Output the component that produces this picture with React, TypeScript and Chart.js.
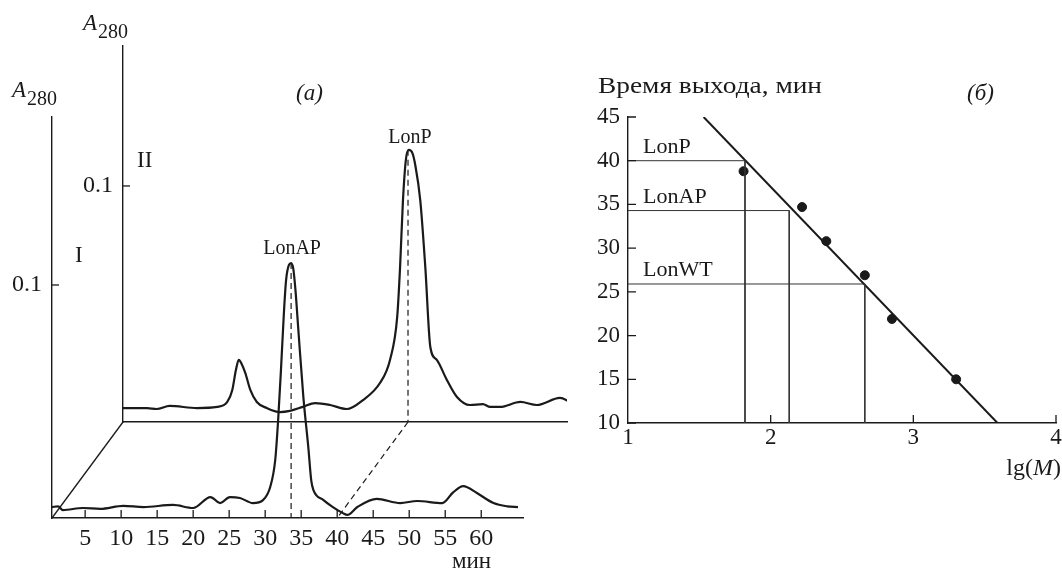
import React, { useEffect, useRef } from 'react';
import { Chart, registerables } from 'chart.js';

Chart.register(...registerables);

const FONT = '"Liberation Serif", "Times New Roman", serif';
const INK = '#1a1a1a';

// ---------- Panel (a): chromatograms ----------
// Trace I (front plane): time, min
const frontTime = [0.4, 1.25, 1.9, 4.7, 7.1, 10.3, 13.1, 17.2, 20, 22.4, 23.75, 25.1, 26.5, 28.3, 29.7, 30.7, 31.4, 31.8, 32.2, 32.6, 32.9, 33.3, 33.6, 33.9, 34.2, 34.6, 35.3, 36.0, 36.4, 36.7, 38.1, 39.4, 40.8, 41.4, 42.8, 45.5, 48.75, 51.1, 54.6, 56.1, 57.5, 59.4, 61.7, 63.6, 65.1];
// Trace I absorbance A280
const frontA = [0.0047, 0.005, 0.0034, 0.0043, 0.0039, 0.0052, 0.0047, 0.0056, 0.0043, 0.009, 0.0064, 0.009, 0.0086, 0.0064, 0.0077, 0.0133, 0.025, 0.042, 0.064, 0.088, 0.102, 0.1086, 0.1094, 0.107, 0.098, 0.081, 0.052, 0.03, 0.016, 0.012, 0.0077, 0.0047, 0.0021, 0.0013, 0.0047, 0.0082, 0.0064, 0.0073, 0.0064, 0.011, 0.0137, 0.0107, 0.0064, 0.005, 0.0047];
// Trace II (back plane): time, min
const backTime = [0.4, 3.75, 5.1, 6.9, 10.7, 13.5, 14.9, 15.6, 16.1, 16.5, 16.9, 17.4, 18.1, 19.0, 20.4, 22.2, 23.6, 25.4, 27.1, 29.2, 31.5, 33.75, 36.1, 37.5, 38.5, 38.9, 39.3, 39.7, 40.1, 40.6, 41.0, 41.7, 42.4, 43.1, 44.0, 45.4, 46.8, 48.6, 50.4, 51.4, 52.8, 55.6, 57.9, 61.1, 62.5];
// Trace II absorbance A280
const backA = [0.0059, 0.0059, 0.0055, 0.0068, 0.0059, 0.0064, 0.0085, 0.0136, 0.022, 0.0263, 0.0246, 0.0208, 0.0136, 0.0085, 0.0059, 0.0042, 0.0047, 0.0064, 0.008, 0.0072, 0.0055, 0.0093, 0.0165, 0.0263, 0.0445, 0.0657, 0.094, 0.111, 0.1153, 0.114, 0.109, 0.094, 0.0657, 0.0318, 0.0263, 0.0178, 0.0106, 0.0072, 0.0076, 0.0064, 0.0064, 0.0085, 0.0072, 0.0102, 0.0085];

const timeTicksA = [5, 10, 15, 20, 25, 30, 35, 40, 45, 50, 55, 60];
const absTicksA = [0.1];
const lonAPTime = 33.6;
const lonAPPeak = 0.1094;
const lonPTime = 40.0;
const lonPPeak = 0.1153;

// ---------- Panel (б): calibration ----------
const lgM = [1.81, 2.22, 2.39, 2.66, 2.85, 3.3];
const elution = [38.8, 34.7, 30.8, 26.9, 21.9, 15.0];
const fitLg = [1.53, 3.59];
const fitTime = [45, 10];
const markerNames = ['LonP', 'LonAP', 'LonWT'];
const markerTime = [40, 34.3, 25.9];
const markerLg = [1.82, 2.13, 2.66];
const lgTicks = [1, 2, 3, 4];
const timeTicksB = [10, 15, 20, 25, 30, 35, 40, 45];

const W = 1062;
const H = 572;

const fixY = (w: number) => (s: any) => {
  s.width = w;
  s.paddingTop = 0; s.paddingBottom = 0; s.paddingLeft = 0; s.paddingRight = 0;
};
const fixX = (h: number) => (s: any) => {
  s.height = h;
  s.paddingTop = 0; s.paddingBottom = 0; s.paddingLeft = 0; s.paddingRight = 0;
};
const setTicks = (vals: number[]) => (s: any) => {
  s.ticks = vals.map((v) => ({ value: v }));
};

function drawInTicks(chart: any, id: string, vals: number[], len: number) {
  const s = chart.scales[id];
  const a = chart.chartArea;
  const ctx = chart.ctx;
  ctx.save();
  ctx.strokeStyle = INK;
  ctx.lineWidth = 1.3;
  ctx.beginPath();
  vals.forEach((v) => {
    const p = s.getPixelForValue(v);
    if (s.isHorizontal()) {
      ctx.moveTo(p, a.bottom);
      ctx.lineTo(p, a.bottom - len);
    } else {
      ctx.moveTo(a.left, p);
      ctx.lineTo(a.left + len, p);
    }
  });
  ctx.stroke();
  ctx.restore();
}

function stretchText(ctx: CanvasRenderingContext2D, text: string, x: number, y: number, sx: number) {
  ctx.save();
  ctx.translate(x, y);
  ctx.scale(sx, 1);
  ctx.fillText(text, 0, 0);
  ctx.restore();
}

function drawA280(ctx: CanvasRenderingContext2D, x: number, y: number) {
  ctx.font = `italic 23px ${FONT}`;
  ctx.textAlign = 'left';
  ctx.textBaseline = 'alphabetic';
  ctx.fillText('A', x, y);
  const w = ctx.measureText('A').width;
  ctx.font = `20px ${FONT}`;
  ctx.fillText('280', x + w + 1, y + 8);
}

const baseOpts = () => ({
  responsive: false,
  animation: false as const,
  events: [] as any[],
  plugins: { legend: { display: false }, tooltip: { enabled: false } },
});

const axisBorder = { display: true, color: INK, width: 1.4 };
const tickFontA = { family: FONT, size: 24 };
const tickFontB = { family: FONT, size: 23 };

export default function App() {
  const backRef = useRef<HTMLCanvasElement>(null);
  const frontRef = useRef<HTMLCanvasElement>(null);
  const bRef = useRef<HTMLCanvasElement>(null);

  useEffect(() => {
    // ---- back plane (trace II) ----
    const back = new Chart(backRef.current!, {
      type: 'scatter',
      data: {
        datasets: [
          {
            data: backTime.map((t, i) => ({ x: t, y: backA[i] })),
            showLine: true,
            borderColor: INK,
            borderWidth: 2.2,
            pointRadius: 0,
            cubicInterpolationMode: 'monotone',
          },
          {
            data: [{ x: lonPTime, y: lonPPeak }, { x: lonPTime, y: 0 }],
            showLine: true,
            borderColor: INK,
            borderWidth: 1.2,
            borderDash: [6, 4],
            pointRadius: 0,
          },
        ],
      },
      options: {
        ...baseOpts(),
        layout: { padding: { left: 73, top: 46, right: W - 567, bottom: H - 422 - 10 } },
        scales: {
          x: {
            type: 'linear', min: 0.42, max: 62.08,
            afterFit: fixX(10),
            grid: { display: false, drawTicks: false },
            border: axisBorder,
            ticks: { display: false },
          },
          y: {
            type: 'linear', min: 0, max: 0.1593,
            afterFit: fixY(50),
            afterBuildTicks: setTicks(absTicksA),
            grid: { display: false, drawTicks: false },
            border: axisBorder,
            ticks: { font: tickFontA, color: INK, padding: 10, callback: (v: any) => String(v) },
          },
        },
      },
      plugins: [
        {
          id: 'backDeco',
          afterDraw(chart: any) {
            drawInTicks(chart, 'y', absTicksA, 7);
            const ctx = chart.ctx;
            ctx.save();
            ctx.fillStyle = INK;
            drawA280(ctx, 83, 30);
            ctx.font = `23px ${FONT}`;
            ctx.textAlign = 'left';
            ctx.fillText('II', 137, 167);
            ctx.font = `20px ${FONT}`;
            ctx.textAlign = 'center';
            const px = chart.scales.x.getPixelForValue(lonPTime);
            const py = chart.scales.y.getPixelForValue(lonPPeak);
            ctx.fillText('LonP', px + 2, py - 7);
            ctx.restore();
          },
        },
      ],
    } as any);

    // ---- front plane (trace I) ----
    const front = new Chart(frontRef.current!, {
      type: 'scatter',
      data: {
        datasets: [
          {
            data: frontTime.map((t, i) => ({ x: t, y: frontA[i] })),
            showLine: true,
            borderColor: INK,
            borderWidth: 2.2,
            pointRadius: 0,
            cubicInterpolationMode: 'monotone',
          },
          {
            data: [{ x: lonAPTime, y: lonAPPeak }, { x: lonAPTime, y: 0 }],
            showLine: true,
            borderColor: INK,
            borderWidth: 1.2,
            borderDash: [6, 4],
            pointRadius: 0,
          },
        ],
      },
      options: {
        ...baseOpts(),
        layout: { padding: { left: 2, top: 117, right: W - 523, bottom: H - 518 - 50 } },
        scales: {
          x: {
            type: 'linear', min: 0.4, max: 65.8,
            afterFit: fixX(50),
            afterBuildTicks: setTicks(timeTicksA),
            grid: { display: false, drawTicks: false },
            border: axisBorder,
            ticks: { font: tickFontA, color: INK, padding: 6, maxRotation: 0, autoSkip: false },
          },
          y: {
            type: 'linear', min: 0, max: 0.1721,
            afterFit: fixY(50),
            afterBuildTicks: setTicks(absTicksA),
            grid: { display: false, drawTicks: false },
            border: axisBorder,
            ticks: { font: tickFontA, color: INK, padding: 10, callback: (v: any) => String(v) },
          },
        },
      },
      plugins: [
        {
          id: 'frontDeco',
          afterDraw(chart: any) {
            drawInTicks(chart, 'x', timeTicksA, 8);
            drawInTicks(chart, 'y', absTicksA, 7);
            const ctx = chart.ctx;
            const fx = chart.scales.x;
            const fy = chart.scales.y;
            const bx = back.scales.x;
            const by = back.scales.y;
            ctx.save();
            ctx.strokeStyle = INK;
            // perspective edge joining the two baselines
            ctx.lineWidth = 1.3;
            ctx.beginPath();
            ctx.moveTo(bx.getPixelForValue(bx.min), by.getPixelForValue(0));
            ctx.lineTo(fx.getPixelForValue(fx.min), fy.getPixelForValue(0));
            ctx.stroke();
            // dashed projection of LonP elution time onto front axis
            ctx.lineWidth = 1.2;
            ctx.setLineDash([6, 4]);
            ctx.beginPath();
            ctx.moveTo(bx.getPixelForValue(lonPTime), by.getPixelForValue(0));
            ctx.lineTo(fx.getPixelForValue(lonPTime), fy.getPixelForValue(0));
            ctx.stroke();
            ctx.setLineDash([]);

            ctx.fillStyle = INK;
            drawA280(ctx, 12, 97);
            ctx.font = `23px ${FONT}`;
            ctx.textAlign = 'left';
            ctx.textBaseline = 'alphabetic';
            ctx.fillText('I', 75, 262);
            ctx.font = `italic 23px ${FONT}`;
            ctx.fillText('(a)', 296, 100);
            ctx.font = `23px ${FONT}`;
            ctx.fillText('мин', 452, 568);
            ctx.font = `20px ${FONT}`;
            ctx.textAlign = 'center';
            ctx.fillText('LonAP', fx.getPixelForValue(lonAPTime) + 1, fy.getPixelForValue(lonAPPeak) - 9);
            ctx.restore();
          },
        },
      ],
    } as any);

    // ---- panel (б) ----
    const guideSets = markerNames.map((name, i) => ({
      label: name,
      data: [
        { x: 1, y: markerTime[i] },
        { x: markerLg[i], y: markerTime[i] },
        { x: markerLg[i], y: 10 },
      ],
      showLine: true,
      borderColor: '#333',
      borderWidth: 1,
      pointRadius: 0,
    }));
    const calib = new Chart(bRef.current!, {
      type: 'scatter',
      data: {
        datasets: [
          ...guideSets,
          {
            label: 'fit',
            data: fitLg.map((x, i) => ({ x, y: fitTime[i] })),
            showLine: true,
            borderColor: INK,
            borderWidth: 2,
            pointRadius: 0,
          },
          {
            label: 'points',
            data: lgM.map((x, i) => ({ x, y: elution[i] })),
            showLine: false,
            backgroundColor: INK,
            borderColor: INK,
            pointRadius: 4.5,
          },
        ],
      },
      options: {
        ...baseOpts(),
        layout: { padding: { left: 578, top: 117, right: W - 1056, bottom: H - 423 - 40 } },
        scales: {
          x: {
            type: 'linear', min: 1, max: 4,
            afterFit: fixX(40),
            afterBuildTicks: setTicks(lgTicks),
            grid: { display: false, drawTicks: false },
            border: axisBorder,
            ticks: { font: tickFontB, color: INK, padding: 1, maxRotation: 0, autoSkip: false },
          },
          y: {
            type: 'linear', min: 10, max: 45,
            afterFit: fixY(50),
            afterBuildTicks: setTicks(timeTicksB),
            grid: { display: false, drawTicks: false },
            border: axisBorder,
            ticks: { font: tickFontB, color: INK, padding: 8 },
          },
        },
      },
      plugins: [
        {
          id: 'bDeco',
          afterDraw(chart: any) {
            drawInTicks(chart, 'x', lgTicks.slice(1), 8);
            drawInTicks(chart, 'y', timeTicksB, 8);
            const ctx = chart.ctx;
            const ys = chart.scales.y;
            const xs = chart.scales.x;
            ctx.save();
            ctx.fillStyle = INK;
            ctx.textBaseline = 'alphabetic';
            ctx.textAlign = 'left';
            ctx.font = `24px ${FONT}`;
            const title = 'Время выхода, мин';
            const tw = ctx.measureText(title).width;
            stretchText(ctx, title, 598, 93, 224 / tw);
            ctx.font = `italic 23px ${FONT}`;
            ctx.fillText('(б)', 967, 100);
            ctx.font = `21px ${FONT}`;
            markerNames.forEach((n, i) => {
              stretchText(ctx, n, xs.getPixelForValue(1) + 15, ys.getPixelForValue(markerTime[i]) - 8, 1.05);
            });
            // lg(M)
            ctx.font = `24px ${FONT}`;
            const w1 = ctx.measureText('lg(').width;
            const w3 = ctx.measureText(')').width;
            ctx.font = `italic 24px ${FONT}`;
            const w2 = ctx.measureText('M').width;
            const x0 = W - 1 - (w1 + w2 + w3);
            ctx.font = `24px ${FONT}`;
            ctx.fillText('lg(', x0, 475);
            ctx.font = `italic 24px ${FONT}`;
            ctx.fillText('M', x0 + w1, 475);
            ctx.font = `24px ${FONT}`;
            ctx.fillText(')', x0 + w1 + w2, 475);
            ctx.restore();
          },
        },
      ],
    } as any);

    return () => {
      calib.destroy();
      front.destroy();
      back.destroy();
    };
  }, []);

  const cv: React.CSSProperties = { position: 'absolute', left: 0, top: 0 };
  return (
    <div style={{ position: 'absolute', left: 0, top: 0, width: W, height: H, background: '#fff', overflow: 'hidden' }}>
      <canvas ref={backRef} width={W} height={H} style={cv} />
      <canvas ref={frontRef} width={W} height={H} style={cv} />
      <canvas ref={bRef} width={W} height={H} style={cv} />
    </div>
  );
}
